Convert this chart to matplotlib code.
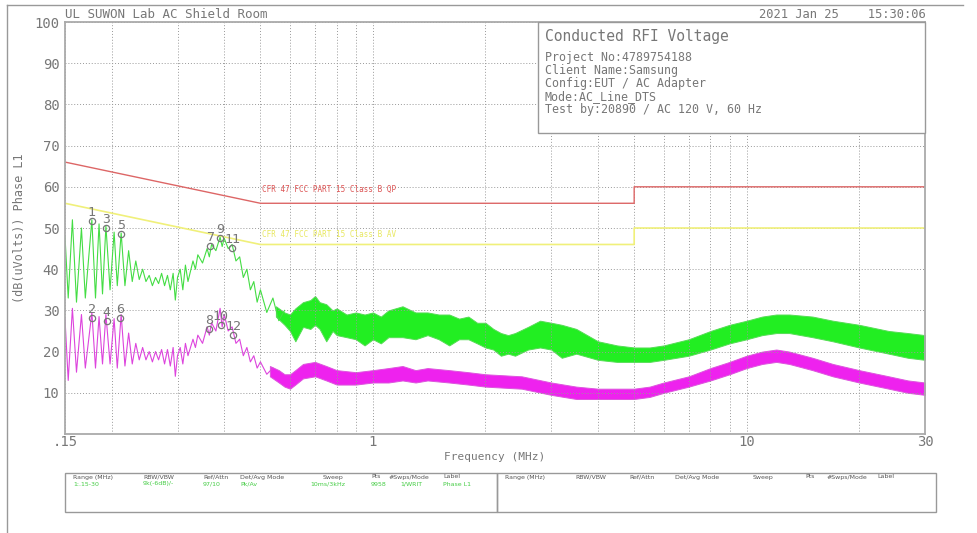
import matplotlib
matplotlib.use('Agg')
import matplotlib.pyplot as plt
from matplotlib.patches import Rectangle
from matplotlib.lines import Line2D

W, H = 978, 533

# limit lines (dBuV)
qp_freq = [0.15, 0.5, 5, 5, 30]
qp_level = [66, 56, 56, 60, 60]
av_freq = [0.15, 0.5, 5, 5, 30]
av_level = [56, 46, 46, 50, 50]

# peak trace, low frequency part (MHz, dBuV)
pk_freq = [0.150, 0.153, 0.157, 0.161, 0.166, 0.170, 0.177, 0.181, 0.185, 0.189,
           0.193, 0.198, 0.203, 0.207, 0.212, 0.217, 0.222, 0.227, 0.232, 0.237,
           0.242, 0.247, 0.252, 0.257, 0.262, 0.267, 0.272, 0.277, 0.282, 0.287,
           0.292, 0.296, 0.300, 0.305, 0.310, 0.315, 0.320, 0.330, 0.335, 0.340,
           0.350, 0.360, 0.365, 0.370, 0.380, 0.390, 0.395, 0.400, 0.410, 0.420,
           0.430, 0.440, 0.450, 0.460, 0.470, 0.480, 0.490, 0.500, 0.520, 0.540,
           0.560, 0.580]
pk_level = [48, 33, 52, 32, 50, 33, 52, 33, 51, 34,
            50.5, 35, 49, 36, 48.8, 36, 44.5, 37, 42, 37.5,
            40, 37, 38.5, 36, 38, 36.5, 39, 36, 38.5, 35,
            39, 32.5, 38, 40, 35, 41, 37, 42, 40, 43.5,
            41.5, 45, 43, 46, 44.5, 47.8, 45.5, 47.5, 45, 46,
            42, 43, 38, 40, 35, 37, 32, 35, 29.5, 33,
            27.5, 30]

# peak trace, band envelopes above 0.55 MHz
pk_band_freq = [0.55, 0.58, 0.60, 0.62, 0.65, 0.68, 0.70, 0.72, 0.75, 0.78,
                0.80, 0.85, 0.90, 0.95, 1.0, 1.05, 1.1, 1.2, 1.3, 1.4,
                1.5, 1.6, 1.7, 1.8, 1.9, 2.0, 2.1, 2.2, 2.3, 2.4,
                2.6, 2.8, 3.0, 3.2, 3.5, 4.0, 4.5, 5.0, 5.5, 6.0,
                7.0, 8.0, 9.0, 10, 11, 12, 13, 15, 17, 20,
                24, 27, 30]
pk_band_hi = [31, 29.5, 29, 30.5, 32, 32.5, 33.5, 32, 31.5, 30,
              30.5, 29, 29.5, 29, 29.5, 28.5, 30, 31, 29.5, 29.5,
              29, 29, 28, 28.5, 27, 27, 25.5, 24.5, 24, 24.5,
              26, 27.5, 27, 26.5, 25.5, 22.5, 21.5, 21, 21, 21.5,
              23, 25, 26.5, 27.5, 28.5, 29, 29, 28.5, 27.5, 26.5,
              25, 24.5, 24]
pk_band_lo = [28.5, 26.5, 25, 22.5, 26, 25.5, 26.5, 25.5, 22.5, 25,
              24, 23.5, 23, 21.5, 23, 22, 23.5, 23.5, 23, 24,
              23, 21.5, 23, 23, 22, 21, 20.5, 19, 19.5, 19,
              20.5, 21, 20.5, 18.5, 19.5, 18, 17.5, 17.5, 17.5, 18,
              19, 20.5, 22, 23, 24, 24.5, 24.5, 23.5, 22.5, 21,
              19.5, 18.5, 18]

# average trace, low frequency part
av_tr_freq = pk_freq[:60]
av_tr_level = [28, 13, 30.5, 15, 29, 16, 29.5, 16, 28.5, 17,
               29, 17, 28, 16, 29, 16.5, 24.5, 17, 22, 18,
               21, 18, 20, 17.5, 20, 18, 20.5, 17, 20.5, 16.5,
               21, 14, 19, 21, 17, 22, 19, 23, 21, 24,
               22, 26, 24, 27, 25, 30.5, 26, 29, 25, 26,
               22, 23, 19, 21, 17.5, 19, 16, 17.5, 14.5, 16]

# average trace, band envelopes
av_band_freq = [0.53, 0.56, 0.58, 0.60, 0.62, 0.65, 0.70, 0.75, 0.80, 0.90,
                1.0, 1.1, 1.2, 1.3, 1.4, 1.6, 1.8, 2.0, 2.5, 3.0,
                3.5, 4.0, 4.5, 5.0, 5.5, 6.0, 7.0, 8.0, 9.0, 10,
                11, 12, 13, 15, 17, 20, 24, 27, 30]
av_band_hi = [16.5, 15.5, 14.5, 14.5, 15.5, 17, 17.5, 16.5, 15.5, 15,
              15.5, 16, 16.5, 15.5, 16, 15.5, 15, 14.5, 14, 12.5,
              11.5, 11, 11, 11, 11.5, 12.5, 14, 16, 17.5, 19,
              20, 20.5, 20, 18.5, 17, 15.5, 14, 13, 12.5]
av_band_lo = [14, 12.5, 11.5, 11, 12, 13.5, 14, 13, 12, 12,
              12.5, 12.5, 13, 12.5, 13, 12.5, 12, 11.5, 11, 9.5,
              8.5, 8.5, 8.5, 8.5, 9, 10, 11.5, 13, 14.5, 16,
              17, 17.5, 17, 15.5, 14, 12.5, 11, 10, 9.5]

# markers
pk_mark_id = ['1', '3', '5', '7', '9', '11']
pk_mark_freq = [0.177, 0.193, 0.212, 0.366, 0.389, 0.420]
pk_mark_level = [51.7, 50.0, 48.5, 45.6, 47.6, 45.1]
av_mark_id = ['2', '4', '6', '8', '10', '12']
av_mark_freq = [0.177, 0.194, 0.211, 0.364, 0.391, 0.423]
av_mark_level = [28.2, 27.4, 28.2, 25.5, 26.5, 24.0]

x_major = [0.15, 1, 10, 30]
x_major_labels = ['.15', '1', '10', '30']
x_minor = [0.2, 0.3, 0.4, 0.5, 0.6, 0.7, 0.8, 0.9, 2, 3, 4, 5, 6, 7, 8, 9, 20]
y_ticks = [10, 20, 30, 40, 50, 60, 70, 80, 90, 100]

info_title = 'Conducted RFI Voltage'
info_lines = ['Project No:4789754188', 'Client Name:Samsung',
              'Config:EUT / AC Adapter', 'Mode:AC_Line_DTS',
              'Test by:20890 / AC 120 V, 60 Hz']

tbl_headers = ['Range (MHz)', 'RBW/VBW', 'Ref/Attn', 'Det/Avg Mode', 'Sweep', 'Pts',
               '#Swps/Mode', 'Label']
tbl_values = ['1:.15-30', '9k(-6dB)/-', '97/10', 'Pk/Av', '10ms/3kHz', '9958',
              '1/WRIT', 'Phase L1']

MONO = 'DejaVu Sans Mono'
GRAY = '#777777'


def fx(px):
    return px / W


def fy(py):
    return 1 - py / H


fig = plt.figure(figsize=(W / 100, H / 100), dpi=100)
ax = fig.add_axes([fx(65), fy(434), fx(925) - fx(65), fy(22) - fy(434)])
ax.set_xscale('log')
ax.set_xlim(0.15, 30)
ax.set_ylim(0, 100)

ax.set_xticks(x_major)
ax.set_xticklabels(x_major_labels)
ax.set_xticks(x_minor, minor=True)
ax.set_xticklabels([], minor=True)
ax.set_yticks(y_ticks)
ax.tick_params(which='both', length=0, labelsize=10, labelcolor=GRAY, pad=4)
ax.tick_params(axis='x', pad=1)
for lab in ax.get_xticklabels() + ax.get_yticklabels():
    lab.set_family(MONO)
ax.grid(which='both', color='#999999', ls=(0, (1, 2)), lw=0.7)
for s in ax.spines.values():
    s.set_color('#aaaaaa')
    s.set_linewidth(1.3)

ax.plot(qp_freq, qp_level, color='#dd6666', lw=1.0)
ax.plot(av_freq, av_level, color='#f0f07a', lw=1.2)
ax.text(0.505, 58.8, 'CFR 47 FCC PART 15 Class B QP', color='#dd5555', fontsize=5.5,
        family=MONO)
ax.text(0.505, 47.9, 'CFR 47 FCC PART 15 Class B AV', color='#e8e860', fontsize=5.5,
        family=MONO)

ax.fill_between(pk_band_freq, pk_band_lo, pk_band_hi, color='#22ee22', lw=0.7,
                edgecolor='#55dd55')
ax.plot(pk_freq, pk_level, color='#44dd44', lw=0.8)
ax.fill_between(av_band_freq, av_band_lo, av_band_hi, color='#ee22ee', lw=0.7,
                edgecolor='#dd55dd')
ax.plot(av_tr_freq, av_tr_level, color='#dd44dd', lw=0.8)

for ids, fr, lv in [(pk_mark_id, pk_mark_freq, pk_mark_level),
                    (av_mark_id, av_mark_freq, av_mark_level)]:
    ax.plot(fr, lv, 'o', ms=4.5, mfc='none', mec='#777777', mew=0.9)
    for i, f, v in zip(ids, fr, lv):
        ax.annotate(i, (f, v), xytext=(0, 1.5), textcoords='offset points', ha='center',
                    va='bottom', fontsize=9.5, color='#777777', family=MONO)

ax.set_xlabel('Frequency (MHz)', fontsize=8, color=GRAY, family=MONO, labelpad=2)
ax.set_ylabel('(dB(uVolts)) Phase L1', fontsize=8.5, color=GRAY, family=MONO, labelpad=6)

# header texts
fig.text(fx(65), fy(14), 'UL SUWON Lab AC Shield Room', fontsize=9, color=GRAY,
         family=MONO, va='center')
fig.text(fx(926), fy(14), '2021 Jan 25    15:30:06', fontsize=8.7, color=GRAY,
         family=MONO, va='center', ha='right')

# info box
fig.patches.append(Rectangle((fx(538), fy(133)), fx(925) - fx(538), fy(22) - fy(133),
                             transform=fig.transFigure, facecolor='white',
                             edgecolor='#999999', lw=1.0, zorder=3))
fig.text(fx(545), fy(36), info_title, fontsize=10.5, color=GRAY, family=MONO,
         va='center', zorder=4)
for k, line in enumerate(info_lines):
    fig.text(fx(545), fy(57 + 13.2 * k), line, fontsize=8.4, color=GRAY, family=MONO,
             va='center', zorder=4)

# outer frame
fig.add_artist(Line2D([fx(7), fx(7)], [fy(5), 0], color='#999999', lw=1.0))
fig.add_artist(Line2D([fx(7), fx(963)], [fy(5), fy(5)], color='#999999', lw=1.0))

# settings tables
for x0, x1 in [(65, 497), (497, 936)]:
    fig.patches.append(Rectangle((fx(x0), fy(512)), fx(x1) - fx(x0), fy(473) - fy(512),
                                 transform=fig.transFigure, facecolor='none',
                                 edgecolor='#999999', lw=1.0))
left_hx = [73, 143, 203, 240, 323, 371, 389, 443]
left_vx = [73, 143, 203, 240, 310, 371, 400, 443]
right_hx = [505, 575, 629, 675, 753, 805, 827, 877]
for t, x in zip(tbl_headers, left_hx):
    fig.text(fx(x), fy(477), t, fontsize=4.5, color='#555555', va='center')
for t, x in zip(tbl_values, left_vx):
    fig.text(fx(x), fy(484), t, fontsize=4.5, color='#44cc44', va='center')
for t, x in zip(tbl_headers, right_hx):
    fig.text(fx(x), fy(477), t, fontsize=4.5, color='#555555', va='center')

fig.savefig('out.png', dpi=100)
